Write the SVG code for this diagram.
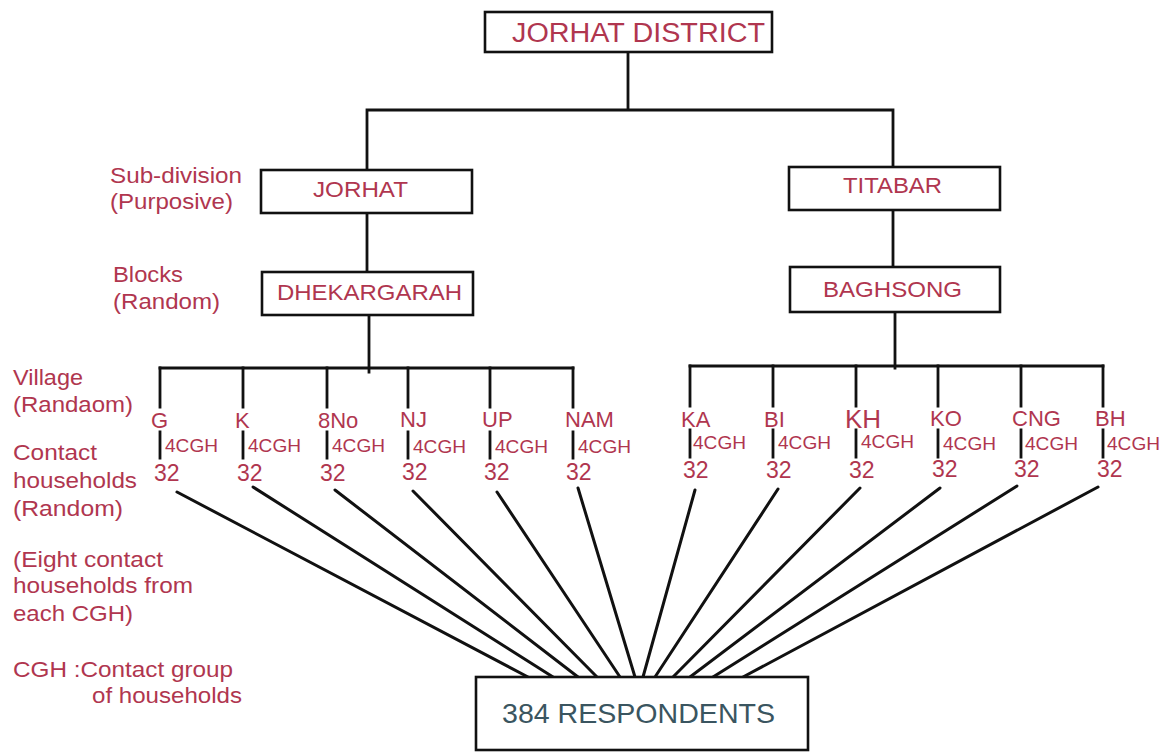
<svg xmlns="http://www.w3.org/2000/svg" width="1173" height="752" viewBox="0 0 1173 752">
<style>
.bx{fill:#fff;stroke:#111;stroke-width:2.6}
.ln{stroke:#111;stroke-width:2.8;fill:none;stroke-linecap:square}
.fan{stroke:#111;stroke-width:3;fill:none;stroke-linecap:round}
text{font-family:"Liberation Sans",Arial,sans-serif;fill:#b0364f}
.bt{font-size:22px}
.lb{font-size:21.5px}
.vl{font-size:22px}
.cg{font-size:18px}
.n{font-size:23px}
</style>
<rect width="1173" height="752" fill="#fff"/>
<g id="connectors">
<path class="ln" d="M628 52V110M367 110H893M367 110V170M893 110V167M367 213V272M893 210V267M369 315V372M160 368H573M895 312V368M690 366H1103"/>
<path class="ln" d="M160 368V407M243 368V407M327 368V407M408 368V407M490 368V407M573 368V407M690 366V406M773 366V406M856 366V406M938 366V406M1021 366V406M1103 366V406"/>
<path class="ln" d="M160 432V458M243 432V458M327 432V458M408 432V458M490 432V458M573 432V458M690 430V457M773 430V457M856 430V457M938 430V457M1021 430V457M1103 430V457"/>
<path class="fan" d="M177 492L528 677M253 487L553 677M335 490L578 677M413 491L597 677M497 492L620 677M578 488L635 677M695 490L643 677M778 489L655 677M860 488L673 677M940 488L690 677M1017 486L713 677M1098 487L743 677"/>
</g>
<g id="district"><rect class="bx" x="485" y="12" width="287" height="40"/><text x="512" y="42" style="font-size:27px" textLength="253" lengthAdjust="spacingAndGlyphs">JORHAT DISTRICT</text></g>
<g id="jorhat"><rect class="bx" x="261" y="170" width="211" height="43"/><text class="bt" x="313" y="197" textLength="95" lengthAdjust="spacingAndGlyphs">JORHAT</text></g>
<g id="titabar"><rect class="bx" x="789" y="167" width="211" height="43"/><text class="bt" x="843" y="193" textLength="99" lengthAdjust="spacingAndGlyphs">TITABAR</text></g>
<g id="dhekargarah"><rect class="bx" x="262" y="272" width="211" height="43"/><text class="bt" x="277" y="300" textLength="185" lengthAdjust="spacingAndGlyphs">DHEKARGARAH</text></g>
<g id="baghsong"><rect class="bx" x="790" y="267" width="210" height="45"/><text class="bt" x="823" y="297" textLength="139" lengthAdjust="spacingAndGlyphs">BAGHSONG</text></g>
<g id="respondents"><rect class="bx" x="476" y="677" width="332" height="73"/><text x="502" y="723" style="font-size:28px;fill:#3a5560" textLength="273" lengthAdjust="spacingAndGlyphs">384 RESPONDENTS</text></g>
<g id="labels">
<text class="lb" x="110" y="183" textLength="132" lengthAdjust="spacingAndGlyphs">Sub-division</text>
<text class="lb" x="110" y="209" textLength="123" lengthAdjust="spacingAndGlyphs">(Purposive)</text>
<text class="lb" x="113" y="282" textLength="70" lengthAdjust="spacingAndGlyphs">Blocks</text>
<text class="lb" x="113" y="309" textLength="107" lengthAdjust="spacingAndGlyphs">(Random)</text>
<text class="lb" x="13" y="385" textLength="70" lengthAdjust="spacingAndGlyphs">Village</text>
<text class="lb" x="13" y="412" textLength="120" lengthAdjust="spacingAndGlyphs">(Randaom)</text>
<text class="lb" x="13" y="460" textLength="84" lengthAdjust="spacingAndGlyphs">Contact</text>
<text class="lb" x="13" y="488" textLength="124" lengthAdjust="spacingAndGlyphs">households</text>
<text class="lb" x="13" y="516" textLength="110" lengthAdjust="spacingAndGlyphs">(Random)</text>
<text class="lb" x="13" y="567" textLength="150" lengthAdjust="spacingAndGlyphs">(Eight contact</text>
<text class="lb" x="13" y="593" textLength="180" lengthAdjust="spacingAndGlyphs">households from</text>
<text class="lb" x="13" y="621" textLength="120" lengthAdjust="spacingAndGlyphs">each CGH)</text>
<text class="lb" x="13" y="677" textLength="220" lengthAdjust="spacingAndGlyphs">CGH :Contact group</text>
<text class="lb" x="92" y="703" textLength="150" lengthAdjust="spacingAndGlyphs">of households</text>
</g>
<g id="village-G"><text class="vl" x="151" y="428">G</text><text class="cg" x="165" y="452" textLength="53" lengthAdjust="spacingAndGlyphs">4CGH</text><text class="n" x="154" y="481">32</text></g>
<g id="village-K"><text class="vl" x="235" y="428">K</text><text class="cg" x="248" y="452" textLength="53" lengthAdjust="spacingAndGlyphs">4CGH</text><text class="n" x="237" y="481">32</text></g>
<g id="village-8No"><text class="vl" x="318" y="428">8No</text><text class="cg" x="332" y="452" textLength="53" lengthAdjust="spacingAndGlyphs">4CGH</text><text class="n" x="320" y="481">32</text></g>
<g id="village-NJ"><text class="vl" x="400" y="427">NJ</text><text class="cg" x="413" y="453" textLength="53" lengthAdjust="spacingAndGlyphs">4CGH</text><text class="n" x="402" y="480">32</text></g>
<g id="village-UP"><text class="vl" x="482" y="427">UP</text><text class="cg" x="495" y="453" textLength="53" lengthAdjust="spacingAndGlyphs">4CGH</text><text class="n" x="484" y="480">32</text></g>
<g id="village-NAM"><text class="vl" x="565" y="427">NAM</text><text class="cg" x="578" y="453" textLength="53" lengthAdjust="spacingAndGlyphs">4CGH</text><text class="n" x="566" y="480">32</text></g>
<g id="village-KA"><text class="vl" x="681" y="427">KA</text><text class="cg" x="693" y="449" textLength="53" lengthAdjust="spacingAndGlyphs">4CGH</text><text class="n" x="683" y="478">32</text></g>
<g id="village-BI"><text class="vl" x="764" y="427">BI</text><text class="cg" x="778" y="449" textLength="53" lengthAdjust="spacingAndGlyphs">4CGH</text><text class="n" x="766" y="478">32</text></g>
<g id="village-KH"><text class="vl" x="845" y="428" style="font-size:26px">KH</text><text class="cg" x="861" y="448" textLength="53" lengthAdjust="spacingAndGlyphs">4CGH</text><text class="n" x="849" y="478">32</text></g>
<g id="village-KO"><text class="vl" x="930" y="426">KO</text><text class="cg" x="943" y="450" textLength="53" lengthAdjust="spacingAndGlyphs">4CGH</text><text class="n" x="932" y="477">32</text></g>
<g id="village-CNG"><text class="vl" x="1012" y="426">CNG</text><text class="cg" x="1025" y="450" textLength="53" lengthAdjust="spacingAndGlyphs">4CGH</text><text class="n" x="1014" y="477">32</text></g>
<g id="village-BH"><text class="vl" x="1095" y="426">BH</text><text class="cg" x="1107" y="450" textLength="53" lengthAdjust="spacingAndGlyphs">4CGH</text><text class="n" x="1097" y="477">32</text></g>
</svg>
